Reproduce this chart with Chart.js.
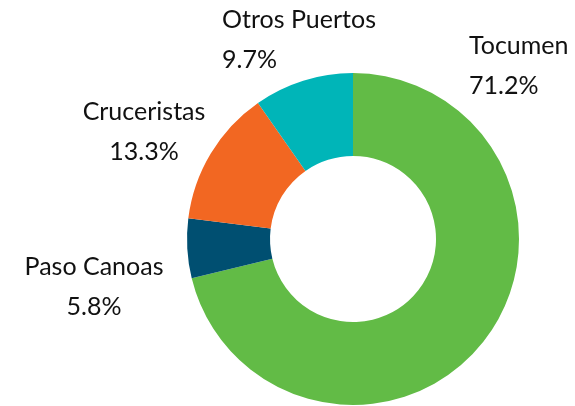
<!DOCTYPE html>
<html lang="es">
<head>
<meta charset="UTF-8">
<title>Doughnut</title>
<script src="https://cdn.jsdelivr.net/npm/chart.js"></script>
<style>
  html, body { margin: 0; padding: 0; background: #fff; }
  #wrap { width: 575px; height: 406px; }
</style>
</head>
<body>
<div id="wrap"><canvas id="chart" width="575" height="406"></canvas></div>
<script>
// data
const categories = ['Tocumen', 'Paso Canoas', 'Cruceristas', 'Otros Puertos'];
const shares = [71.2, 5.8, 13.3, 9.7];
const sliceColors = ['#62BB46', '#004F71', '#F26722', '#00B5B8'];

// where each label sits, relative to the chart centre (layout only)
const labelSpots = [
  { dx: 116, dy: -193, align: 'left' },
  { dx: -259, dy: 28, align: 'center' },
  { dx: -209, dy: -127, align: 'center' },
  { dx: -131, dy: -219, align: 'left' }
];

const outsideLabels = {
  id: 'outsideLabels',
  afterDraw(chart) {
    const ctx = chart.ctx;
    const arc = chart.getDatasetMeta(0).data[0];
    ctx.save();
    ctx.fillStyle = '#111';
    ctx.font = '25px Lato';
    ctx.textBaseline = 'middle';
    categories.forEach((name, i) => {
      const s = labelSpots[i];
      const x = arc.x + s.dx, y = arc.y + s.dy;
      ctx.textAlign = s.align;
      ctx.fillText(name, x, y);
      ctx.fillText(shares[i].toFixed(1) + '%', x, y + 40);
    });
    ctx.restore();
  }
};

new Chart(document.getElementById('chart'), {
  type: 'doughnut',
  data: {
    labels: categories,
    datasets: [{
      data: shares,
      backgroundColor: sliceColors,
      borderWidth: 0
    }]
  },
  options: {
    responsive: false,
    animation: false,
    cutout: '50%',
    layout: { padding: { top: 73, bottom: 1, left: 187, right: 56 } },
    plugins: {
      legend: { display: false },
      tooltip: { enabled: false }
    }
  },
  plugins: [outsideLabels]
});
</script>
</body>
</html>
